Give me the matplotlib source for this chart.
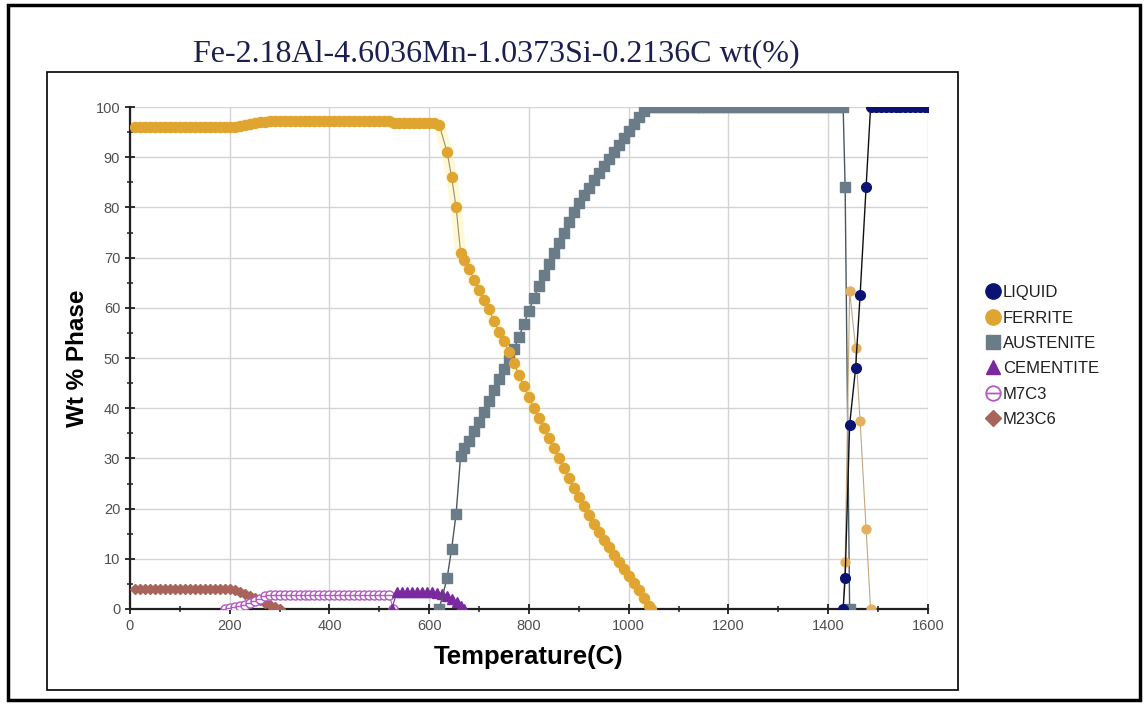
import matplotlib
matplotlib.use("Agg")
import matplotlib.pyplot as plt
from matplotlib.lines import Line2D
from matplotlib.patches import Rectangle
from matplotlib.path import Path
import numpy as np

plt.rcParams['font.family'] = ['Liberation Sans', 'DejaVu Sans']

title_text = "Fe-2.18Al-4.6036Mn-1.0373Si-0.2136C wt(%)"
x_label = "Temperature(C)"
y_label = "Wt % Phase"
x_ticks = [0, 200, 400, 600, 800, 1000, 1200, 1400, 1600]
y_ticks = [0, 10, 20, 30, 40, 50, 60, 70, 80, 90, 100]
phase_names = ["LIQUID", "FERRITE", "AUSTENITE", "CEMENTITE", "M7C3", "M23C6"]

# LIQUID
liquid_T = [1430, 1434, 1443, 1455, 1464, 1476, 1485, 1495, 1505, 1515,
            1525, 1535, 1545, 1555, 1565, 1575, 1585, 1595, 1600]
liquid_wt = [0.0, 6.2, 36.7, 48.0, 62.5, 84.0, 100.0, 100.0, 100.0, 100.0,
             100.0, 100.0, 100.0, 100.0, 100.0, 100.0, 100.0, 100.0, 100.0]

# FERRITE (low-temperature alpha branch)
ferrite_lo_T = [10, 20, 30, 40, 50, 60, 70, 80, 90, 100,
                110, 120, 130, 140, 150, 160, 170, 180, 190, 200,
                210, 220, 230, 240, 250, 260, 270, 280, 290, 300,
                310, 320, 330, 340, 350, 360, 370, 380, 390, 400,
                410, 420, 430, 440, 450, 460, 470, 480, 490, 500,
                510, 520, 530, 540, 550, 560, 570, 580, 590, 600,
                610, 620, 636, 645, 654, 663, 670, 680, 690, 700,
                710, 720, 730, 740, 750, 760, 770, 780, 790, 800,
                810, 820, 830, 840, 850, 860, 870, 880, 890, 900,
                910, 920, 930, 940, 950, 960, 970, 980, 990, 1000,
                1010, 1020, 1030, 1040, 1045]
ferrite_lo_wt = [96.0, 96.0, 96.0, 96.0, 96.0, 96.0, 96.0, 96.0, 96.0, 96.0,
                 96.0, 96.0, 96.0, 96.0, 96.0, 96.0, 96.0, 96.0, 96.0, 96.0,
                 96.1, 96.3, 96.5, 96.7, 96.8, 97.0, 97.1, 97.2, 97.2, 97.2,
                 97.2, 97.2, 97.2, 97.2, 97.2, 97.2, 97.2, 97.2, 97.2, 97.2,
                 97.2, 97.2, 97.2, 97.2, 97.2, 97.2, 97.2, 97.2, 97.2, 97.2,
                 97.2, 97.2, 96.8, 96.8, 96.8, 96.8, 96.8, 96.8, 96.8, 96.8,
                 96.8, 96.5, 91.0, 86.0, 80.0, 71.0, 69.5, 67.8, 65.6, 63.6,
                 61.6, 59.7, 57.4, 55.2, 53.4, 51.2, 49.0, 46.6, 44.4, 42.2,
                 40.1, 38.0, 36.0, 34.0, 32.0, 30.0, 28.0, 26.1, 24.2, 22.4,
                 20.6, 18.8, 17.0, 15.3, 13.8, 12.3, 10.8, 9.4, 8.0, 6.6,
                 5.2, 3.7, 2.2, 0.6, 0.0]

# FERRITE (high-temperature delta branch)
ferrite_hi_T = [1430, 1434, 1443, 1455, 1464, 1476, 1485]
ferrite_hi_wt = [0.0, 9.4, 63.3, 52.0, 37.5, 16.0, 0.0]

# AUSTENITE
austenite_T = [620, 636, 645, 654, 663, 670, 680, 690, 700, 710,
               720, 730, 740, 750, 760, 770, 780, 790, 800, 810,
               820, 830, 840, 850, 860, 870, 880, 890, 900, 910,
               920, 930, 940, 950, 960, 970, 980, 990, 1000, 1010,
               1020, 1030, 1040, 1050, 1060, 1070, 1080, 1090, 1100, 1110,
               1120, 1130, 1140, 1150, 1160, 1170, 1180, 1190, 1200, 1210,
               1220, 1230, 1240, 1250, 1260, 1270, 1280, 1290, 1300, 1310,
               1320, 1330, 1340, 1350, 1360, 1370, 1380, 1390, 1400, 1410,
               1420, 1430, 1434, 1443]
austenite_wt = [0.0, 6.2, 12.0, 19.0, 30.5, 32.0, 33.5, 35.5, 37.3, 39.3,
                41.5, 43.7, 45.8, 47.8, 49.6, 51.8, 54.2, 56.8, 59.4, 62.0,
                64.4, 66.6, 68.8, 70.9, 73.0, 75.0, 77.0, 79.0, 80.8, 82.4,
                83.9, 85.4, 86.8, 88.2, 89.6, 91.0, 92.4, 93.8, 95.2, 96.6,
                98.0, 99.3, 100.0, 100.0, 100.0, 100.0, 100.0, 100.0, 100.0, 100.0,
                100.0, 100.0, 100.0, 100.0, 100.0, 100.0, 100.0, 100.0, 100.0, 100.0,
                100.0, 100.0, 100.0, 100.0, 100.0, 100.0, 100.0, 100.0, 100.0, 100.0,
                100.0, 100.0, 100.0, 100.0, 100.0, 100.0, 100.0, 100.0, 100.0, 100.0,
                100.0, 100.0, 84.0, 0.0]

# CEMENTITE
cementite_T = [525, 535, 545, 555, 565, 575, 585, 595, 605, 615,
               625, 635, 645, 655, 663, 670]
cementite_wt = [0.0, 3.3, 3.3, 3.3, 3.3, 3.3, 3.3, 3.3, 3.3, 3.2,
                3.0, 2.6, 2.0, 1.3, 0.6, 0.0]

# M7C3
m7c3_T = [190, 200, 210, 220, 230, 240, 250, 260, 270, 280,
          290, 300, 310, 320, 330, 340, 350, 360, 370, 380,
          390, 400, 410, 420, 430, 440, 450, 460, 470, 480,
          490, 500, 510, 520, 528]
m7c3_wt = [0.0, 0.2, 0.4, 0.6, 0.8, 1.1, 1.5, 2.0, 2.5, 2.8,
           2.8, 2.8, 2.8, 2.8, 2.8, 2.8, 2.8, 2.8, 2.8, 2.8,
           2.8, 2.8, 2.8, 2.8, 2.8, 2.8, 2.8, 2.8, 2.8, 2.8,
           2.8, 2.8, 2.8, 2.8, 0.0]

# M23C6
m23c6_T = [10, 20, 30, 40, 50, 60, 70, 80, 90, 100,
           110, 120, 130, 140, 150, 160, 170, 180, 190, 200,
           210, 220, 230, 240, 250, 260, 270, 280, 290, 300]
m23c6_wt = [4.0, 4.0, 4.0, 4.0, 4.0, 4.0, 4.0, 4.0, 4.0, 4.0,
            4.0, 4.0, 4.0, 4.0, 4.0, 4.0, 4.0, 4.0, 4.0, 4.0,
            3.7, 3.3, 2.9, 2.5, 2.1, 1.7, 1.2, 0.8, 0.4, 0.0]

c_liquid = "#0b1372"
c_ferrite = "#e0a431"
c_austenite = "#6b7c89"
c_cementite = "#7a2a9e"
c_m7c3 = "#b25cc4"
c_m23c6 = "#a8645a"

# circle crossed by a horizontal bar
minus_circle = Path.make_compound_path(
    Path.unit_circle(),
    Path([(-1.0, 0.0), (1.0, 0.0)], [Path.MOVETO, Path.LINETO]))

fig = plt.figure(figsize=(11.48, 7.06), dpi=100)
ax = fig.add_axes([0.1132, 0.1374, 0.6951, 0.7110])

# soft halo around the ferrite curve
ax.plot(ferrite_lo_T, ferrite_lo_wt, color="#fff0a0", lw=8, alpha=0.45,
        solid_capstyle="round", zorder=2)

ax.plot(m23c6_T, m23c6_wt, color=c_m23c6, lw=0.8, marker="D", ms=5.5,
        mfc=c_m23c6, mec=c_m23c6, zorder=3)
ax.plot(m7c3_T, m7c3_wt, color=c_m7c3, lw=0.8, marker=minus_circle, ms=6.5,
        mfc="white", mec=c_m7c3, mew=1.0, zorder=3)
ax.plot(cementite_T, cementite_wt, color=c_cementite, lw=0.8, marker="^", ms=6.8,
        mfc=c_cementite, mec=c_cementite, zorder=3)
ax.plot(austenite_T, austenite_wt, color="#4a5660", lw=1.0, marker="s", ms=7.6,
        mfc=c_austenite, mec=c_austenite, zorder=4)
ax.plot(ferrite_lo_T, ferrite_lo_wt, color="#9a9070", lw=0.8, marker="o", ms=7.2,
        mfc=c_ferrite, mec=c_ferrite, zorder=4)
ax.plot(ferrite_hi_T, ferrite_hi_wt, color="#c0a880", lw=0.8, marker="o", ms=6.4,
        mfc="#e4b060", mec="#e4b060", zorder=4)
ax.plot(liquid_T, liquid_wt, color="#101010", lw=1.0, marker="o", ms=7.0,
        mfc=c_liquid, mec=c_liquid, zorder=5)

ax.set_xlim(0, 1600)
ax.set_ylim(0, 100)
ax.set_xticks(x_ticks)
ax.set_yticks(y_ticks)
ax.set_xticks(np.arange(0, 1601, 100), minor=True)
ax.set_yticks(np.arange(0, 101, 5), minor=True)
ax.grid(True, which="major", color="#d4d4d4", lw=1.0, zorder=0)
ax.set_axisbelow(True)
for s in ("top", "right"):
    ax.spines[s].set_visible(False)
for s in ("left", "bottom"):
    ax.spines[s].set_color("#202020")
    ax.spines[s].set_linewidth(1.6)
ax.tick_params(which="major", direction="inout", length=7, width=1.3,
               colors="#202020", labelcolor="#505050", labelsize=10.5)
ax.tick_params(which="minor", direction="inout", length=5, width=1.1, colors="#202020")
ax.set_xlabel(x_label, fontsize=18.5, fontweight="bold", labelpad=9)
ax.set_ylabel(y_label, fontsize=17.5, fontweight="bold", labelpad=5)

fig.text(0.432, 0.924, title_text, ha="center", va="center",
         family=["Liberation Serif"], fontsize=23, color="#1b1f4f")

# legend
h_liquid = Line2D([], [], ls="none", marker="o", ms=11, mfc=c_liquid, mec=c_liquid)
h_ferrite = Line2D([], [], ls="none", marker="o", ms=11, mfc=c_ferrite, mec=c_ferrite)
h_aust = Line2D([], [], ls="none", marker="s", ms=10, mfc=c_austenite, mec=c_austenite)
h_cem = Line2D([], [], ls="none", marker="^", ms=10, mfc=c_cementite, mec=c_cementite)
h_m7 = Line2D([], [], ls="none", marker=minus_circle, ms=10.5, mfc="white",
              mec=c_m7c3, mew=1.3)
h_m23 = Line2D([], [], ls="none", marker="D", ms=8, mfc=c_m23c6, mec=c_m23c6)
fig.legend([h_liquid, h_ferrite, h_aust, h_cem, h_m7, h_m23], phase_names,
           loc="upper left", bbox_to_anchor=(0.859, 0.596), frameon=False,
           fontsize=12, handlelength=0.8, handletextpad=0.2, labelspacing=0.62,
           borderaxespad=0, borderpad=0, labelcolor="#202020")

# panel borders
fig.add_artist(Rectangle((47 / 1148, 1 - 690 / 706), (958 - 47) / 1148, (690 - 72) / 706,
                         transform=fig.transFigure, fill=False, ec="black", lw=1.2))
fig.add_artist(Rectangle((8 / 1148, 1 - 700 / 706), (1140 - 8) / 1148, (700 - 5) / 706,
                         transform=fig.transFigure, fill=False, ec="black", lw=2.5))

fig.savefig("out.png", dpi=100)
